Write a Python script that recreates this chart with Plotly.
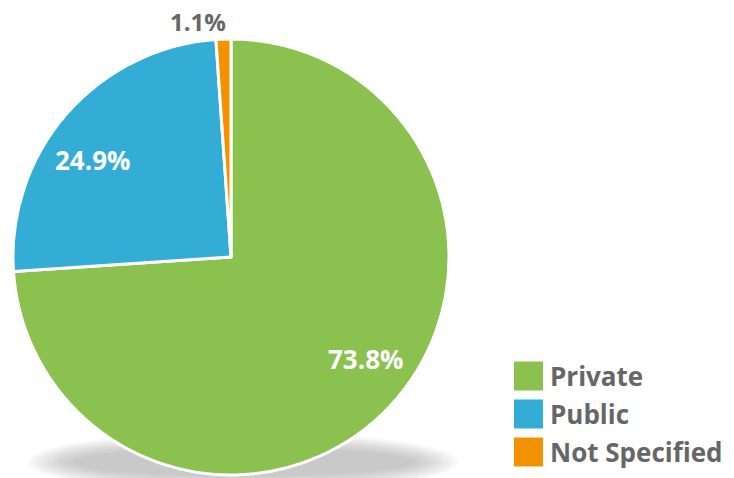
import math
import plotly.graph_objects as go

labels = ["Private", "Public", "Not Specified"]
values = [73.8, 24.9, 1.1]
colors = ["#8BC14F", "#33ADD6", "#F39200"]
label_inside = [True, True, False]
label_colors = ["#FFFFFF", "#FFFFFF", "#666666"]

W, H = 734, 478
CX, CY, R = 231, 257, 218  # pie centre / radius in pixels

fig = go.Figure()
fig.add_trace(go.Pie(
    labels=labels, values=values, sort=False, direction="clockwise", rotation=0,
    marker=dict(colors=colors, line=dict(color="#FFFFFF", width=3)),
    textinfo="none", showlegend=False, hoverinfo="label+value",
    domain=dict(x=[(CX-R)/W, (CX+R)/W], y=[1-(CY+R)/H, 1-(CY-R)/H]),
))

annotations = []
total = sum(values)
cum = 0.0
for v, inside, tc in zip(values, label_inside, label_colors):
    mid = (cum + v / 2) / total * 360 - 6
    cum += v
    rr = R * (0.775 if inside else 1.09)
    px = CX + rr * math.sin(math.radians(mid))
    py = CY - rr * math.cos(math.radians(mid))
    annotations.append(dict(x=px/W, y=1-py/H, xref="paper", yref="paper",
                            text=f"{v:.1f}%", showarrow=False,
                            xanchor="center", yanchor="middle",
                            font=dict(family="Open Sans", size=26 if inside else 24,
                                      color=tc, weight="bold")))

shapes = []
# soft shadow under the pie
sx, sy = 243, 462
layers = 10
for i in range(layers):
    f = i / (layers - 1)
    rx = 215 - 45 * f
    ry = 30 - 16 * f
    shapes.append(dict(type="circle", xref="paper", yref="paper", layer="below",
                       x0=(sx-rx)/W, x1=(sx+rx)/W, y0=1-(sy+ry)/H, y1=1-(sy-ry)/H,
                       fillcolor="#9a9a9a", opacity=0.07, line=dict(width=0)))

leg_y = [376, 414, 452]
for lab, col, yy in zip(labels, colors, leg_y):
    shapes.append(dict(type="rect", xref="paper", yref="paper",
                       x0=514/W, x1=543/W, y0=1-(yy+14.5)/H, y1=1-(yy-14.5)/H,
                       fillcolor=col, line=dict(width=0)))
    annotations.append(dict(x=548/W, y=1-yy/H, xref="paper", yref="paper",
                            text=lab, showarrow=False, xanchor="left", yanchor="middle",
                            font=dict(family="Open Sans", size=26, color="#666666", weight="bold")))

fig.update_layout(width=W, height=H, margin=dict(l=0, r=0, t=0, b=0),
                  paper_bgcolor="white", plot_bgcolor="white",
                  shapes=shapes, annotations=annotations)
fig.write_html("out.html", config={"displayModeBar": False},
               post_script="document.body.style.margin='0';")
